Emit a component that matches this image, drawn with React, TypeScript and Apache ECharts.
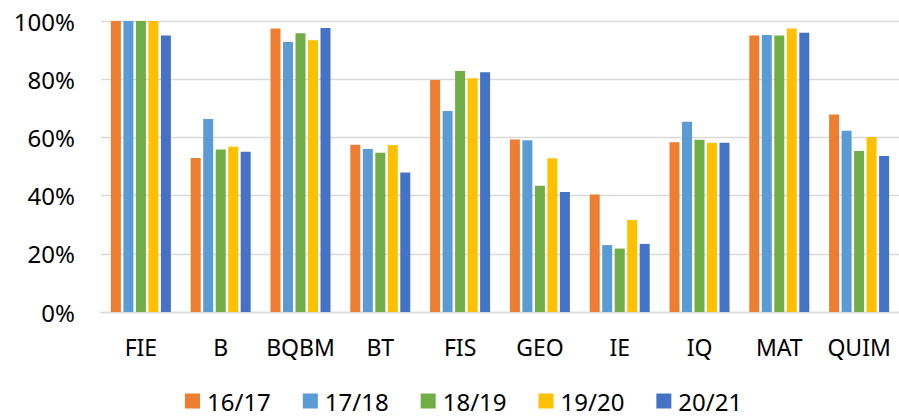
import React, { useEffect, useRef } from "react";
import * as echarts from "echarts";

const categories = ["FIE", "B", "BQBM", "BT", "FIS", "GEO", "IE", "IQ", "MAT", "QUIM"];
const seriesNames = ["16/17", "17/18", "18/19", "19/20", "20/21"];
const s1617 = [100, 52.9, 97.4, 57.5, 79.7, 59.3, 40.4, 58.3, 95.0, 67.9];
const s1718 = [100, 66.3, 92.8, 56.0, 69.1, 59.0, 23.0, 65.4, 95.2, 62.3];
const s1819 = [100, 55.8, 95.8, 54.7, 82.8, 43.4, 21.8, 59.2, 95.0, 55.3];
const s1920 = [100, 56.8, 93.4, 57.4, 80.3, 52.8, 31.6, 58.2, 97.4, 60.1];
const s2021 = [95.0, 55.1, 97.6, 47.9, 82.4, 41.2, 23.4, 58.2, 96.0, 53.6];
const colors = ["#ED7D31", "#5B9BD5", "#70AD47", "#FFC000", "#4472C4"];

export default function App() {
  const ref = useRef<HTMLDivElement>(null);
  useEffect(() => {
    if (!ref.current) return;
    const chart = echarts.init(ref.current, undefined, { renderer: "svg" });
    const data = [s1617, s1718, s1819, s1920, s2021];
    const font = "'Noto Sans', sans-serif";
    chart.setOption({
      animation: false,
      color: colors,
      textStyle: { fontFamily: font },
      grid: { left: 101, top: 21, width: 798, height: 291, containLabel: false },
      legend: {
        left: 185,
        top: 388,
        padding: 0,
        itemWidth: 15,
        itemHeight: 15,
        itemGap: 32,
        icon: "rect",
        textStyle: { fontSize: 24, color: "#000", fontFamily: font, padding: [0, 0, 0, 2], lineHeight: 26 },
        data: seriesNames,
      },
      xAxis: {
        type: "category",
        data: categories,
        axisLine: { show: true, lineStyle: { color: "#D9D9D9", width: 1.3 } },
        axisTick: { show: false },
        axisLabel: { fontSize: 23, color: "#000", margin: 23, fontFamily: font, interval: 0 },
      },
      yAxis: {
        type: "value",
        min: 0,
        max: 100,
        interval: 20,
        axisLine: { show: false },
        axisTick: { show: false },
        splitLine: { lineStyle: { color: "#D9D9D9", width: 1.3 } },
        axisLabel: { fontSize: 24, color: "#000", margin: 26, formatter: "{value}%", fontFamily: font },
      },
      series: seriesNames.map((name, i) => ({
        name,
        type: "bar",
        data: data[i],
        barWidth: 10,
        barGap: "25%",
        itemStyle: { color: colors[i] },
      })),
    });
    return () => chart.dispose();
  }, []);
  return (
    <div
      ref={ref}
      style={{ position: "fixed", left: 0, top: 0, width: 899, height: 416, background: "#fff" }}
    />
  );
}
